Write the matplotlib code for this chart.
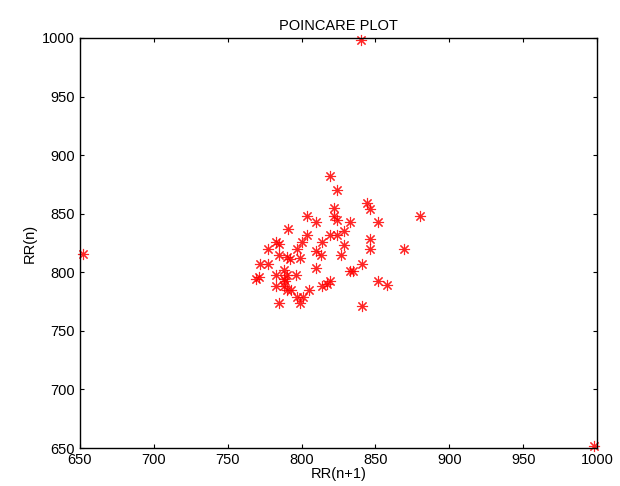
import matplotlib
matplotlib.use('Agg')
import matplotlib.pyplot as plt

plt.rcParams['font.family'] = ['Liberation Sans', 'DejaVu Sans']

# RR(n+1) and RR(n) values
rr_next = [819, 824, 844, 846, 880, 804, 822, 822, 824, 810, 833, 852, 791, 829,
           819, 824, 804, 783, 785, 800, 814, 829, 846, 846, 777, 797, 869, 810,
           813, 827, 785, 790, 792, 799, 772, 777, 810, 841, 833, 835, 769, 771,
           783, 788, 790, 796, 788, 852, 858, 783, 788, 790, 793, 805, 814, 817,
           819, 797, 801, 799, 785, 841, 789, 652, 840, 998]
rr_n = [882, 870, 859, 854, 848, 848, 855, 848, 845, 843, 843, 843, 837, 835,
        832, 832, 832, 826, 824, 826, 826, 823, 828, 820, 820, 820, 820, 818,
        815, 815, 815, 813, 811, 812, 807, 807, 804, 807, 801, 801, 794, 796,
        798, 802, 798, 798, 794, 793, 789, 788, 788, 785, 785, 785, 788, 790,
        793, 779, 779, 774, 774, 771, 793, 816, 998, 652]

fig = plt.figure(figsize=(6.2, 4.86), dpi=100)
ax = fig.add_axes([0.129, 0.078, 0.834, 0.844])

# MATLAB-style asterisk marker
ax.plot(rr_next, rr_n, linestyle='none', marker=(8, 2, 0), color='red',
        markersize=8, markeredgewidth=0.8, alpha=0.85, clip_on=False)

ax.set_xlim(650, 1000)
ax.set_ylim(650, 1000)
ax.set_xticks(range(650, 1001, 50))
ax.set_yticks(range(650, 1001, 50))
ax.tick_params(direction='in', top=True, right=True, length=3, labelsize=10.5)
for s in ax.spines.values():
    s.set_linewidth(1.0)

ax.set_title('POINCARE PLOT', fontsize=10.5, pad=6)
ax.set_xlabel('RR(n+1)', fontsize=10.5, labelpad=0)
ax.set_ylabel('RR(n)', fontsize=10.5, labelpad=4)

fig.savefig('out.png', dpi=100)
